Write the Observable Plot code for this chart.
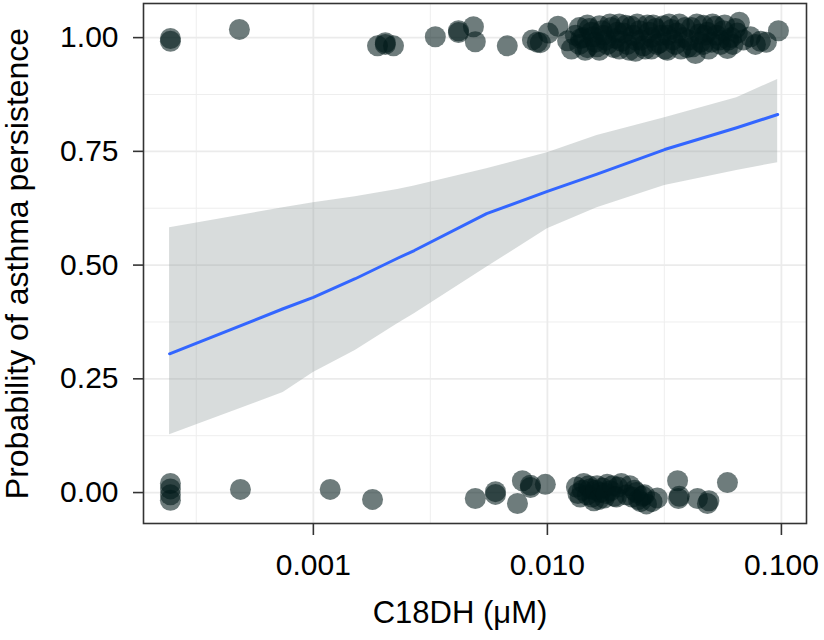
<!DOCTYPE html>
<html>
<head>
<meta charset="utf-8">
<script src="https://cdn.jsdelivr.net/npm/d3@7"></script>
<script src="https://cdn.jsdelivr.net/npm/@observablehq/plot@0.6"></script>
<style>
  html, body { margin: 0; padding: 0; background: white; }
</style>
</head>
<body>
<div id="chart"></div>
<script>
// Axis ticks
const xTicks = [0.001, 0.01, 0.1];
const xMinorTicks = [0.000316, 0.00316, 0.0316];
const yTicks = [0, 0.25, 0.5, 0.75, 1];
const yMinorTicks = [0.125, 0.375, 0.625, 0.875];

// Fitted logistic curve and confidence band
const bandConc  = [0.000243, 0.000743, 0.001, 0.00151, 0.00229, 0.0027, 0.0055, 0.01, 0.0163, 0.0317, 0.0644, 0.0964];
const bandFit   = [0.305, 0.404, 0.429, 0.470, 0.515, 0.532, 0.613, 0.662, 0.700, 0.754, 0.802, 0.831];
const bandLower = [0.127, 0.220, 0.264, 0.312, 0.371, 0.393, 0.495, 0.580, 0.626, 0.675, 0.708, 0.725];
const bandUpper = [0.582, 0.626, 0.637, 0.650, 0.666, 0.674, 0.712, 0.747, 0.785, 0.824, 0.868, 0.908];

// Jittered observations: persistent asthma (outcome 1)
const persistConc = [
  0.000245, 0.000245, 0.000483, 0.00188, 0.00203, 0.00203, 0.0022, 0.00332, 0.00417, 0.00417,
  0.00483, 0.00492, 0.00674, 0.00933,
  0.00863, 0.00906, 0.0101, 0.0111, 0.0122, 0.01267, 0.01317, 0.0137, 0.0137, 0.01425,
  0.01482, 0.01482, 0.01542, 0.01603, 0.01668, 0.01668, 0.01735, 0.01805, 0.01877, 0.01953,
  0.0203, 0.0203, 0.02113, 0.02198, 0.02286, 0.02378, 0.02378, 0.02473, 0.02572, 0.02676,
  0.02783, 0.02783, 0.02895, 0.03011, 0.03132, 0.03258, 0.03258, 0.03389, 0.03524, 0.03666,
  0.03813, 0.03966, 0.04125, 0.04291, 0.04463, 0.04642, 0.04642, 0.04829, 0.05022, 0.05223,
  0.05433, 0.05651, 0.05878, 0.06114, 0.06359, 0.06614, 0.0688, 0.07371, 0.07745, 0.08135,
  0.08627, 0.0971,
  0.0139, 0.0145, 0.0151, 0.0157, 0.0163, 0.0171, 0.0178, 0.0185, 0.0192, 0.0199,
  0.0207, 0.0216, 0.0224, 0.0233, 0.0242, 0.0252, 0.0262, 0.0272, 0.0283, 0.0294,
  0.0306, 0.0318, 0.0331, 0.0344, 0.0358, 0.0372, 0.0387, 0.0402, 0.0418, 0.0435,
  0.0452, 0.0470, 0.0489, 0.0508, 0.0529, 0.0550, 0.0572, 0.0595, 0.0620, 0.0648
];
const persistJitter = [
  0.998, 0.992, 1.018, 0.982, 0.989, 0.985, 0.982, 1.002, 1.015, 1.011,
  1.024, 0.991, 0.982, 0.989,
  0.995, 0.990, 1.010, 1.025, 0.993, 0.975, 1.005, 1.022, 0.985, 1.000,
  1.028, 0.978, 1.012, 0.990, 1.026, 0.972, 1.005, 0.985, 1.022, 0.998,
  1.030, 0.975, 1.010, 0.985, 1.025, 0.995, 0.970, 1.015, 0.982, 1.028,
  1.000, 0.975, 1.020, 0.988, 1.026, 1.005, 0.972, 1.018, 0.985, 1.030,
  1.000, 0.978, 1.022, 0.965, 1.008, 1.027, 0.985, 1.012, 0.990, 1.025,
  0.995, 1.015, 0.976, 1.000, 1.020, 1.034, 0.995, 1.002, 0.985, 0.992,
  0.990, 1.015,
  0.998, 0.972, 1.020, 1.002, 0.980, 1.015, 0.995, 1.030, 0.978, 1.012,
  0.992, 1.027, 0.972, 1.005, 1.030, 0.995, 0.975, 1.012, 1.028, 0.985,
  1.005, 0.975, 1.030, 0.995, 1.010, 0.975, 1.022, 0.995, 0.980, 1.030,
  0.990, 1.005, 0.975, 1.030, 1.005, 0.985, 1.028, 0.995, 0.985, 1.010
];

// Jittered observations: remission (outcome 0)
const remitConc = [
  0.000245, 0.000245, 0.000245, 0.000245, 0.000488, 0.00118, 0.00179, 0.00492, 0.0060, 0.0060,
  0.00745, 0.00782, 0.00846, 0.00846, 0.0098,
  0.0133, 0.0138, 0.0143, 0.0148, 0.0152, 0.0158, 0.0163, 0.0168, 0.0175, 0.0180,
  0.0186, 0.0193, 0.0200, 0.0207,
  0.0218, 0.0225, 0.0235, 0.0245, 0.0255, 0.0265, 0.0280, 0.0295,
  0.0360, 0.0363, 0.0366, 0.0438, 0.0483, 0.0490, 0.0588,
  0.0135, 0.0141, 0.0150, 0.0155, 0.0161, 0.0166, 0.0172, 0.0178, 0.0190, 0.0197,
  0.0230, 0.0240, 0.0250, 0.0260
];
const remitJitter = [
  0.020, 0.008, -0.005, -0.017, 0.007, 0.007, -0.015, -0.013, -0.004, 0.002,
  -0.024, 0.026, 0.011, 0.016, 0.018,
  0.012, -0.010, 0.020, -0.005, 0.008, -0.018, 0.015, 0.000, -0.012, 0.018,
  0.004, -0.008, 0.012, 0.020,
  -0.005, 0.015, 0.005, -0.015, -0.008, -0.025, -0.020, -0.012,
  0.026, -0.013, -0.008, -0.013, -0.024, -0.018, 0.022,
  -0.002, 0.005, 0.015, -0.010, 0.005, -0.015, 0.010, -0.002, 0.015, -0.010,
  -0.010, 0.000, -0.020, -0.005
];

const band = bandConc.map((x, i) => ({x, fit: bandFit[i], lo: bandLower[i], hi: bandUpper[i]}));
const points = [
  ...persistConc.map((c, i) => ({conc: c, y: persistJitter[i]})),
  ...remitConc.map((c, i) => ({conc: c, y: remitJitter[i]}))
];

const chart = Plot.plot({
  width: 824,
  height: 640,
  marginLeft: 143,
  marginRight: 18,
  marginTop: 3,
  marginBottom: 117,
  x: {type: "log", domain: [1.88e-4, 0.128]},
  y: {domain: [-0.068, 1.075]},
  style: {
    fontFamily: "'Liberation Sans', Arial, Helvetica, sans-serif",
    fontSize: "30px",
    color: "black",
    background: "white"
  },
  marks: [
    Plot.gridX({ticks: xMinorTicks, stroke: "#eeeeee", strokeOpacity: 1, strokeWidth: 1}),
    Plot.gridY({ticks: yMinorTicks, stroke: "#eeeeee", strokeOpacity: 1, strokeWidth: 1}),
    Plot.gridX({ticks: xTicks, stroke: "#ebebeb", strokeOpacity: 1, strokeWidth: 1.8}),
    Plot.gridY({ticks: yTicks, stroke: "#ebebeb", strokeOpacity: 1, strokeWidth: 1.8}),
    Plot.areaY(band, {x: "x", y1: "lo", y2: "hi", fill: "#8f9c9c", fillOpacity: 0.35}),
    Plot.line(band, {x: "x", y: "fit", stroke: "#3366FF", strokeWidth: 3}),
    Plot.dot(points, {x: "conc", y: "y", r: 10.5, fill: "#001818", fillOpacity: 0.57}),
    Plot.frame({stroke: "#333333", strokeWidth: 1.6}),
    Plot.axisX({ticks: xTicks, tickFormat: d3.format(".3f"), tickSize: 12, tickPadding: 18,
      fontSize: 30, stroke: "#333333", strokeWidth: 1.6, fill: "black", label: null}),
    Plot.axisY({ticks: yTicks, tickFormat: d3.format(".2f"), tickSize: 10, tickPadding: 15,
      fontSize: 30, stroke: "#333333", strokeWidth: 1.6, fill: "black", label: null}),
    Plot.text(["C18DH (μM)"], {frameAnchor: "bottom", dx: -15, dy: 99, fontSize: 31, fill: "black"}),
    Plot.text(["Probability of asthma persistence"], {frameAnchor: "left", textAnchor: "middle", rotate: -90, dx: -126, fontSize: 32, fill: "black"})
  ]
});
document.getElementById("chart").appendChild(chart);
</script>
</body>
</html>
